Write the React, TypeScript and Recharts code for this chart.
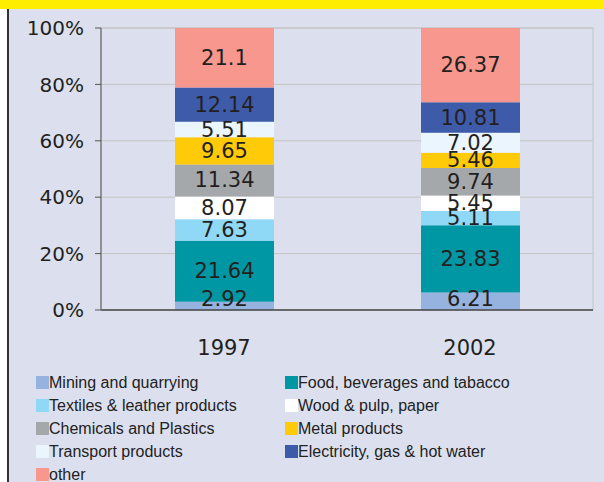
import React from 'react';
import { BarChart, Bar, XAxis, YAxis, CartesianGrid, Legend, LabelList } from 'recharts';

const years = ['1997', '2002'];

const seriesNames = [
  'Mining and quarrying',
  'Food, beverages and tabacco',
  'Textiles & leather products',
  'Wood & pulp, paper',
  'Chemicals and Plastics',
  'Metal products',
  'Transport products',
  'Electricity, gas & hot water',
  'other',
];

const seriesColors = [
  '#95B3DE',
  '#0097A5',
  '#8FD8F6',
  '#FFFFFF',
  '#A5A8AB',
  '#FFCA08',
  '#EAF5FD',
  '#3E5BAA',
  '#F7978E',
];

// shares per year, same order as seriesNames
const values1997 = [2.92, 21.64, 7.63, 8.07, 11.34, 9.65, 5.51, 12.14, 21.1];
const values2002 = [6.21, 23.83, 5.11, 5.45, 9.74, 5.46, 7.02, 10.81, 26.37];

const yTicks = [0, 20, 40, 60, 80, 100];
const edgeTicks = [0, 1, 2];

const data = years.map((year, i) => {
  const vals = i === 0 ? values1997 : values2002;
  const row: Record<string, string | number> = { year };
  seriesNames.forEach((name, k) => {
    row['s' + k] = vals[k];
  });
  return row;
});

const FONT = '"DejaVu Sans", sans-serif';

const makeLabel = (bottom: boolean) => (props: any) => {
  const { x, y, width, height, value } = props;
  let cy = y + height / 2;
  if (bottom) cy = Math.min(cy, y + height - 11);
  return (
    <text
      x={x + width / 2}
      y={cy}
      textAnchor="middle"
      dominantBaseline="central"
      fill="#231F20"
      fontSize={21}
      fontFamily={FONT}
    >
      {value}
    </text>
  );
};

const LegendBox = () => (
  <div
    style={{
      display: 'grid',
      gridTemplateColumns: '249px 300px',
      paddingLeft: 36,
      height: 112,
      fontFamily: '"Liberation Sans", Arial, sans-serif',
      fontSize: 16,
      color: '#222',
    }}
  >
    {seriesNames.map((name, k) => (
      <div key={name} style={{ display: 'flex', alignItems: 'center', height: 23 }}>
        <span
          style={{
            display: 'inline-block',
            width: 13,
            height: 13,
            background: seriesColors[k],
          }}
        />
        <span style={{ whiteSpace: 'nowrap' }}>{name}</span>
      </div>
    ))}
  </div>
);

export default function App() {
  return (
    <div style={{ position: 'absolute', left: 0, top: 0, width: 604, height: 482, background: '#fff', overflow: 'hidden' }}>
      <div style={{ position: 'absolute', left: 8, top: 9, width: 596, height: 473, background: '#DCE0EE' }} />
      <div style={{ position: 'absolute', left: 7, top: 9, width: 1.5, height: 473, background: '#333' }} />
      <div style={{ position: 'absolute', left: 0, top: 0, width: 604, height: 9, background: '#FFED00' }} />
      <div style={{ position: 'absolute', left: 0, top: 0 }}>
        <BarChart
          width={604}
          height={482}
          data={data}
          margin={{ top: 28, right: 11, left: 0, bottom: 20 }}
          barCategoryGap="30%"
        >
          <CartesianGrid
            stroke="#C4C4C4"
            vertical={true}
            verticalCoordinatesGenerator={({ offset }: any) => [offset.left + offset.width]}
          />
          <XAxis
            xAxisId="edges"
            type="number"
            domain={[0, 2]}
            ticks={edgeTicks}
            tickFormatter={() => ''}
            axisLine={false}
            tickLine={{ stroke: '#555' }}
            tickSize={6}
            height={0}
          />
          <XAxis
            dataKey="year"
            axisLine={{ stroke: '#444', strokeWidth: 1.5 }}
            tickLine={false}
            tickSize={6}
            tickMargin={24}
            height={40}
            tick={{ fill: '#231F20', fontSize: 21, fontFamily: FONT }}
          />
          <YAxis
            domain={[0, 100]}
            ticks={yTicks}
            tickFormatter={(v: number) => `${v}%`}
            width={101}
            axisLine={{ stroke: '#777', strokeWidth: 1.5 }}
            tickLine={{ stroke: '#555' }}
            tickSize={6}
            tickMargin={11}
            tick={{ fill: '#231F20', fontSize: 20, fontFamily: FONT }}
          />
          <Legend
            verticalAlign="bottom"
            content={<LegendBox />}
            wrapperStyle={{ left: 0, width: 604, top: 371, bottom: 'auto' }}
          />
          {seriesNames.map((name, k) => (
            <Bar
              key={name}
              dataKey={'s' + k}
              name={name}
              stackId="a"
              fill={seriesColors[k]}
              barSize={99}
              isAnimationActive={false}
            >
              <LabelList dataKey={'s' + k} content={makeLabel(k === 0)} />
            </Bar>
          ))}
        </BarChart>
      </div>
    </div>
  );
}
